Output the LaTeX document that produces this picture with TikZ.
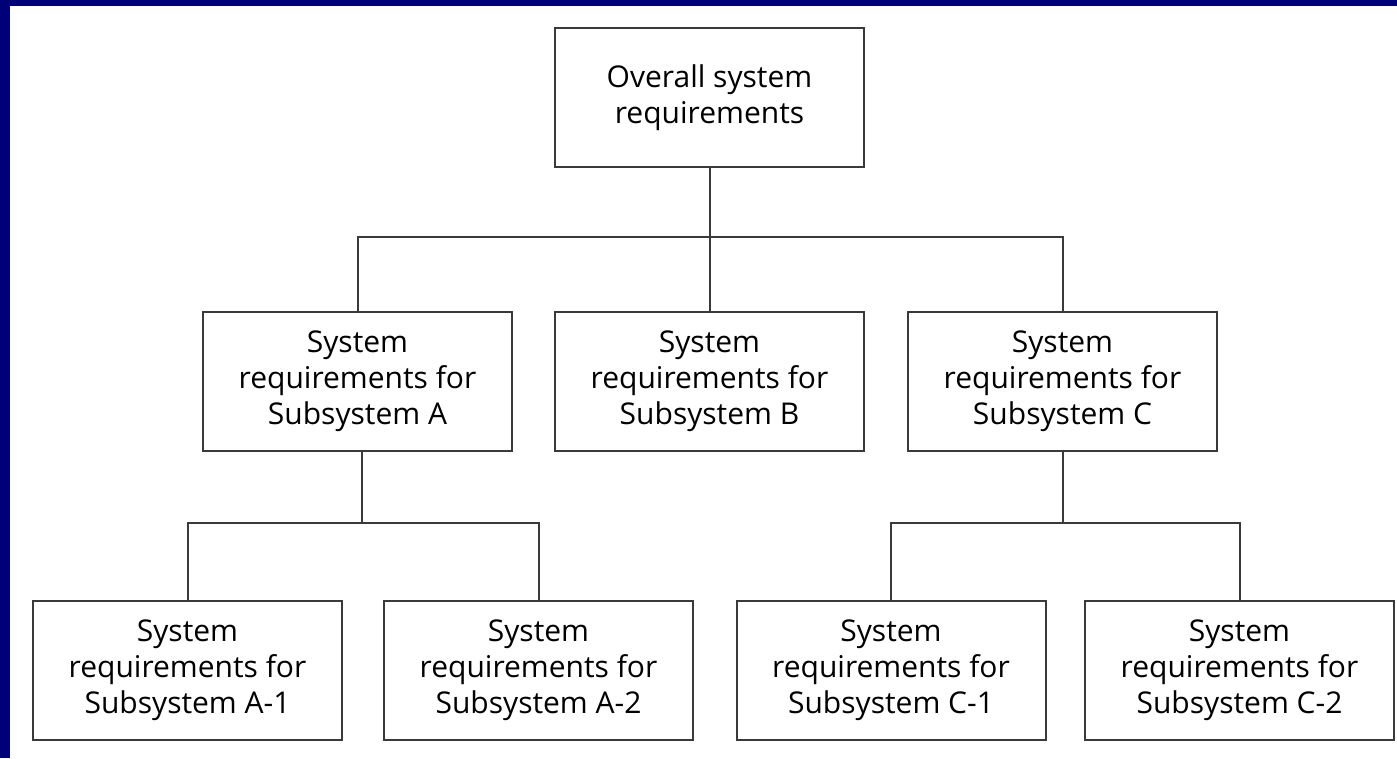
\documentclass[tikz,border=0pt]{standalone}
\usepackage{fontspec}
\setmainfont{Open Sans}
\definecolor{frame}{HTML}{000078}
\definecolor{edge}{HTML}{3A3A3A}
\begin{document}
\begin{tikzpicture}[x=1pt,y=-1pt,
  reqbox/.style={draw=edge,line width=2pt,fill=white,inner sep=0pt,
    minimum width=309pt,minimum height=139pt,align=center,
    font=\fontsize{30}{36}\selectfont},
  link/.style={draw=edge,line width=2pt}]
\fill[frame] (0,0) rectangle (1397,758);
\fill[white] (10,6) rectangle (1397,758);
\useasboundingbox (0,0) rectangle (1397,758);
\node[reqbox] (top) at (709.5,97.5) {Overall system\\requirements};
\node[reqbox] (a) at (357.5,381) {System\\requirements for\\Subsystem A};
\node[reqbox] (b) at (709.5,381) {System\\requirements for\\Subsystem B};
\node[reqbox] (c) at (1062.5,381) {System\\requirements for\\Subsystem C};
\node[reqbox] (a1) at (187.5,670) {System\\requirements for\\Subsystem A-1};
\node[reqbox] (a2) at (538.5,670) {System\\requirements for\\Subsystem A-2};
\node[reqbox] (c1) at (891,670) {System\\requirements for\\Subsystem C-1};
\node[reqbox] (c2) at (1239.5,670) {System\\requirements for\\Subsystem C-2};
\coordinate (j0) at (709.5,237);
\coordinate (ja) at (362,523);
\coordinate (jc) at (1062.5,523);
\draw[link] (top.south) -- (j0);
\draw[link] (a.north) |- (j0) -| (c.north);
\draw[link] (j0) -- (b.north);
\draw[link] (a.south -| ja) -- (ja);
\draw[link] (a1.north) |- (ja) -| (a2.north);
\draw[link] (c.south) -- (jc);
\draw[link] (c1.north) |- (jc) -| (c2.north);
\end{tikzpicture}
\end{document}
